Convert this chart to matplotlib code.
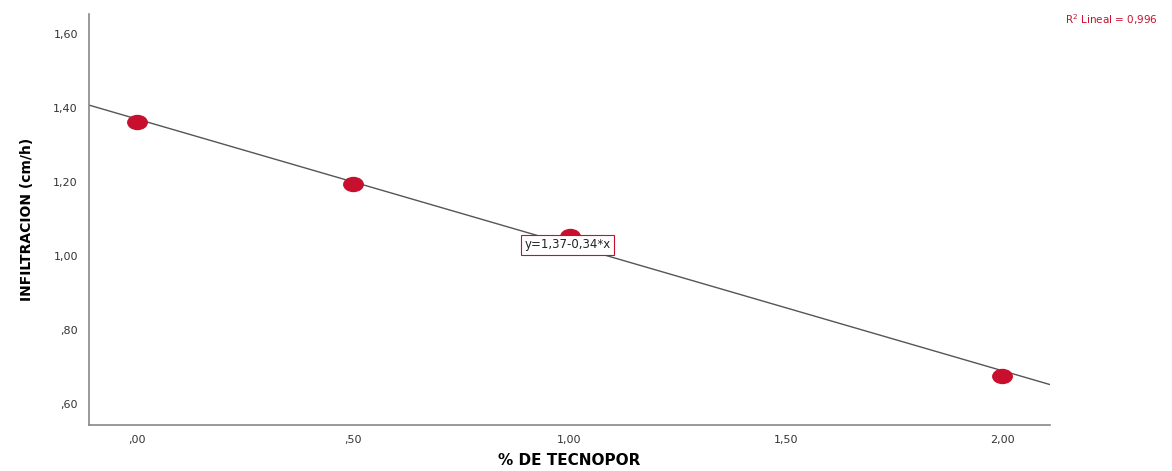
import matplotlib.pyplot as plt
import numpy as np
from matplotlib.path import Path
from matplotlib.transforms import Affine2D

# Infiltration vs. % tecnopor
tecnopor = [0.0, 0.5, 1.0, 2.0]
infiltracion = [1.362, 1.195, 1.054, 0.676]

# Linear fit as reported
b0 = 1.37
b1 = -0.34
r2 = 0.996

xticks = [0.0, 0.5, 1.0, 1.5, 2.0]
xticklabels = [',00', ',50', '1,00', '1,50', '2,00']
yticks = [0.6, 0.8, 1.0, 1.2, 1.4, 1.6]
yticklabels = [',60', ',80', '1,00', '1,20', '1,40', '1,60']

red = '#c8102e'

fig = plt.figure(figsize=(11.72, 4.71), dpi=100)
ax = fig.add_axes([89/1172, 46/471, 961/1172, 411/471])

xmin, xmax = -0.111, 2.111
ax.set_xlim(xmin, xmax)
ax.set_ylim(0.543, 1.654)

# slightly flattened dot marker
ellipse = Path.unit_circle().transformed(Affine2D().scale(1.0, 0.72))

xl = np.array([xmin, xmax])
ax.plot(xl, b0 + b1*xl, color='#555555', lw=1.0, zorder=2)
ax.plot(tecnopor, infiltracion, linestyle='none', marker=ellipse, color=red,
        ms=14, mec=red, zorder=3)

ax.text(0.995, 1.030, 'y=1,37-0,34*x', fontsize=8.5, ha='center', va='center',
        color='#222222',
        bbox=dict(boxstyle='square,pad=0.3', fc='white', ec=red, lw=0.8), zorder=4)
fig.text(1158/1172, 1 - 20/471, 'R$^2$ Lineal = 0,996', fontsize=7.5, color=red,
         ha='right', va='center')

ax.set_xticks(xticks)
ax.set_xticklabels(xticklabels)
ax.set_yticks(yticks)
ax.set_yticklabels(yticklabels)
ax.tick_params(length=0, labelsize=8, labelcolor='#333333')
ax.tick_params(axis='x', pad=7)
ax.tick_params(axis='y', pad=8)

for s in ['top', 'right']:
    ax.spines[s].set_visible(False)
for s in ['left', 'bottom']:
    ax.spines[s].set_color('#888888')
    ax.spines[s].set_linewidth(1.2)

ax.set_xlabel('% DE TECNOPOR', fontsize=11, fontweight='bold', labelpad=6)
ax.set_ylabel('INFILTRACION (cm/h)', fontsize=10, fontweight='bold', labelpad=14)

plt.savefig('out.png')
